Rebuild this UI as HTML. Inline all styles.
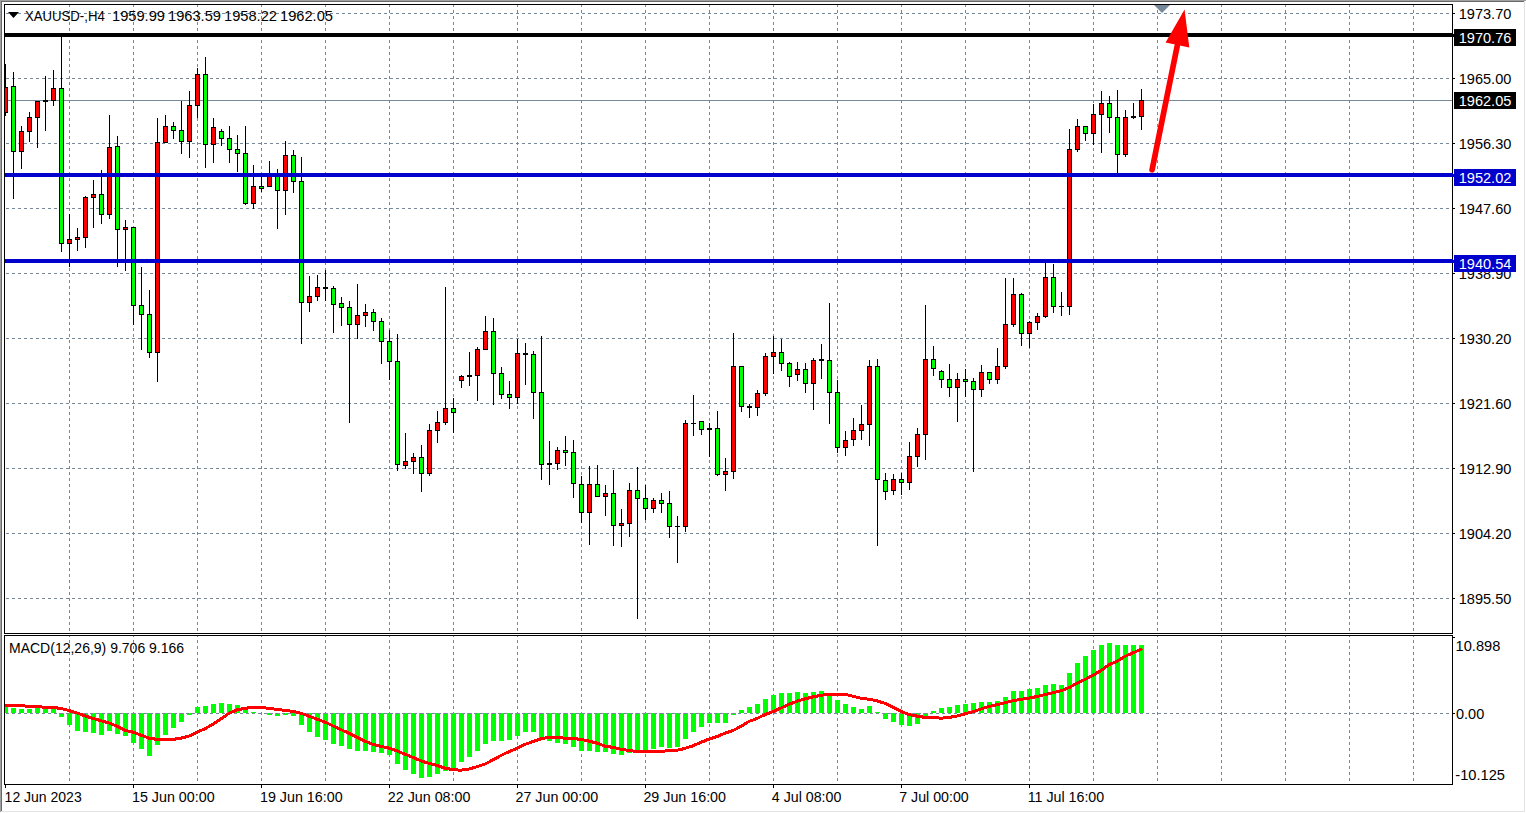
<!DOCTYPE html>
<html><head><meta charset="utf-8"><title>XAUUSD H4</title>
<style>html,body{margin:0;padding:0;background:#fff;width:1526px;height:813px;overflow:hidden}</style>
</head><body>
<svg width="1526" height="813" viewBox="0 0 1526 813" shape-rendering="crispEdges" style="display:block">
<defs><clipPath id="cm"><rect x="5" y="5" width="1447" height="628"/></clipPath><clipPath id="cs"><rect x="5" y="636" width="1447" height="148"/></clipPath></defs>
<rect width="1526" height="813" fill="#fff"/>
<rect x="0" y="0" width="1526" height="1" fill="#a0a0a0"/>
<rect x="0" y="0" width="1" height="812" fill="#a0a0a0"/>
<rect x="1" y="1" width="1523" height="1" fill="#696969"/>
<rect x="1" y="1" width="1" height="810" fill="#696969"/>
<rect x="1524" y="1" width="1" height="811" fill="#e3e3e3"/>
<rect x="1" y="811" width="1524" height="1" fill="#e3e3e3"/>
<g clip-path="url(#cm)">
<line x1="0" y1="13.5" x2="1452" y2="13.5" stroke="#778899" stroke-dasharray="3 3"/>
<line x1="0" y1="78.5" x2="1452" y2="78.5" stroke="#778899" stroke-dasharray="3 3"/>
<line x1="0" y1="143.5" x2="1452" y2="143.5" stroke="#778899" stroke-dasharray="3 3"/>
<line x1="0" y1="208.5" x2="1452" y2="208.5" stroke="#778899" stroke-dasharray="3 3"/>
<line x1="0" y1="273.5" x2="1452" y2="273.5" stroke="#778899" stroke-dasharray="3 3"/>
<line x1="0" y1="338.5" x2="1452" y2="338.5" stroke="#778899" stroke-dasharray="3 3"/>
<line x1="0" y1="403.5" x2="1452" y2="403.5" stroke="#778899" stroke-dasharray="3 3"/>
<line x1="0" y1="468.5" x2="1452" y2="468.5" stroke="#778899" stroke-dasharray="3 3"/>
<line x1="0" y1="533.5" x2="1452" y2="533.5" stroke="#778899" stroke-dasharray="3 3"/>
<line x1="0" y1="598.5" x2="1452" y2="598.5" stroke="#778899" stroke-dasharray="3 3"/>
<line x1="69.5" y1="-2" x2="69.5" y2="633" stroke="#778899" stroke-dasharray="3 3"/>
<line x1="133.5" y1="-2" x2="133.5" y2="633" stroke="#778899" stroke-dasharray="3 3"/>
<line x1="197.5" y1="-2" x2="197.5" y2="633" stroke="#778899" stroke-dasharray="3 3"/>
<line x1="261.5" y1="-2" x2="261.5" y2="633" stroke="#778899" stroke-dasharray="3 3"/>
<line x1="325.5" y1="-2" x2="325.5" y2="633" stroke="#778899" stroke-dasharray="3 3"/>
<line x1="389.5" y1="-2" x2="389.5" y2="633" stroke="#778899" stroke-dasharray="3 3"/>
<line x1="453.5" y1="-2" x2="453.5" y2="633" stroke="#778899" stroke-dasharray="3 3"/>
<line x1="517.5" y1="-2" x2="517.5" y2="633" stroke="#778899" stroke-dasharray="3 3"/>
<line x1="581.5" y1="-2" x2="581.5" y2="633" stroke="#778899" stroke-dasharray="3 3"/>
<line x1="645.5" y1="-2" x2="645.5" y2="633" stroke="#778899" stroke-dasharray="3 3"/>
<line x1="709.5" y1="-2" x2="709.5" y2="633" stroke="#778899" stroke-dasharray="3 3"/>
<line x1="773.5" y1="-2" x2="773.5" y2="633" stroke="#778899" stroke-dasharray="3 3"/>
<line x1="837.5" y1="-2" x2="837.5" y2="633" stroke="#778899" stroke-dasharray="3 3"/>
<line x1="901.5" y1="-2" x2="901.5" y2="633" stroke="#778899" stroke-dasharray="3 3"/>
<line x1="965.5" y1="-2" x2="965.5" y2="633" stroke="#778899" stroke-dasharray="3 3"/>
<line x1="1029.5" y1="-2" x2="1029.5" y2="633" stroke="#778899" stroke-dasharray="3 3"/>
<line x1="1093.5" y1="-2" x2="1093.5" y2="633" stroke="#778899" stroke-dasharray="3 3"/>
<line x1="1157.5" y1="-2" x2="1157.5" y2="633" stroke="#778899" stroke-dasharray="3 3"/>
<line x1="1221.5" y1="-2" x2="1221.5" y2="633" stroke="#778899" stroke-dasharray="3 3"/>
<line x1="1285.5" y1="-2" x2="1285.5" y2="633" stroke="#778899" stroke-dasharray="3 3"/>
<line x1="1349.5" y1="-2" x2="1349.5" y2="633" stroke="#778899" stroke-dasharray="3 3"/>
<line x1="1413.5" y1="-2" x2="1413.5" y2="633" stroke="#778899" stroke-dasharray="3 3"/>
<rect x="5" y="100" width="1447" height="1" fill="#778899"/>
<rect x="5" y="64" width="1" height="52" fill="#000"/>
<rect x="3" y="87" width="5" height="26" fill="#000"/>
<rect x="4" y="88" width="3" height="24" fill="#ff0000"/>
<rect x="13" y="72" width="1" height="127" fill="#000"/>
<rect x="11" y="86" width="5" height="66" fill="#000"/>
<rect x="12" y="87" width="3" height="64" fill="#00ff00"/>
<rect x="21" y="126" width="1" height="43" fill="#000"/>
<rect x="19" y="131" width="5" height="21" fill="#000"/>
<rect x="20" y="132" width="3" height="19" fill="#ff0000"/>
<rect x="29" y="112" width="1" height="30" fill="#000"/>
<rect x="27" y="117" width="5" height="15" fill="#000"/>
<rect x="28" y="118" width="3" height="13" fill="#ff0000"/>
<rect x="37" y="101" width="1" height="47" fill="#000"/>
<rect x="35" y="101" width="5" height="17" fill="#000"/>
<rect x="36" y="102" width="3" height="15" fill="#ff0000"/>
<rect x="45" y="76" width="1" height="55" fill="#000"/>
<rect x="43" y="100" width="5" height="2" fill="#000"/>
<rect x="53" y="70" width="1" height="36" fill="#000"/>
<rect x="51" y="88" width="5" height="13" fill="#000"/>
<rect x="52" y="89" width="3" height="11" fill="#ff0000"/>
<rect x="61" y="37" width="1" height="215" fill="#000"/>
<rect x="59" y="88" width="5" height="156" fill="#000"/>
<rect x="60" y="89" width="3" height="154" fill="#00ff00"/>
<rect x="69" y="214" width="1" height="53" fill="#000"/>
<rect x="67" y="239" width="5" height="5" fill="#000"/>
<rect x="68" y="240" width="3" height="3" fill="#ff0000"/>
<rect x="77" y="228" width="1" height="23" fill="#000"/>
<rect x="75" y="237" width="5" height="3" fill="#000"/>
<rect x="76" y="238" width="3" height="1" fill="#ff0000"/>
<rect x="85" y="196" width="1" height="52" fill="#000"/>
<rect x="83" y="197" width="5" height="41" fill="#000"/>
<rect x="84" y="198" width="3" height="39" fill="#ff0000"/>
<rect x="93" y="180" width="1" height="48" fill="#000"/>
<rect x="91" y="194" width="5" height="4" fill="#000"/>
<rect x="92" y="195" width="3" height="2" fill="#ff0000"/>
<rect x="101" y="170" width="1" height="54" fill="#000"/>
<rect x="99" y="194" width="5" height="21" fill="#000"/>
<rect x="100" y="195" width="3" height="19" fill="#00ff00"/>
<rect x="109" y="115" width="1" height="104" fill="#000"/>
<rect x="107" y="147" width="5" height="68" fill="#000"/>
<rect x="108" y="148" width="3" height="66" fill="#ff0000"/>
<rect x="117" y="136" width="1" height="131" fill="#000"/>
<rect x="115" y="146" width="5" height="84" fill="#000"/>
<rect x="116" y="147" width="3" height="82" fill="#00ff00"/>
<rect x="125" y="220" width="1" height="51" fill="#000"/>
<rect x="123" y="227" width="5" height="3" fill="#000"/>
<rect x="124" y="228" width="3" height="1" fill="#ff0000"/>
<rect x="133" y="227" width="1" height="98" fill="#000"/>
<rect x="131" y="227" width="5" height="79" fill="#000"/>
<rect x="132" y="228" width="3" height="77" fill="#00ff00"/>
<rect x="141" y="267" width="1" height="83" fill="#000"/>
<rect x="139" y="305" width="5" height="10" fill="#000"/>
<rect x="140" y="306" width="3" height="8" fill="#00ff00"/>
<rect x="149" y="290" width="1" height="68" fill="#000"/>
<rect x="147" y="314" width="5" height="39" fill="#000"/>
<rect x="148" y="315" width="3" height="37" fill="#00ff00"/>
<rect x="157" y="118" width="1" height="264" fill="#000"/>
<rect x="155" y="142" width="5" height="211" fill="#000"/>
<rect x="156" y="143" width="3" height="209" fill="#ff0000"/>
<rect x="165" y="115" width="1" height="28" fill="#000"/>
<rect x="163" y="126" width="5" height="17" fill="#000"/>
<rect x="164" y="127" width="3" height="15" fill="#ff0000"/>
<rect x="173" y="122" width="1" height="17" fill="#000"/>
<rect x="171" y="126" width="5" height="5" fill="#000"/>
<rect x="172" y="127" width="3" height="3" fill="#00ff00"/>
<rect x="181" y="101" width="1" height="53" fill="#000"/>
<rect x="179" y="130" width="5" height="12" fill="#000"/>
<rect x="180" y="131" width="3" height="10" fill="#00ff00"/>
<rect x="189" y="91" width="1" height="67" fill="#000"/>
<rect x="187" y="105" width="5" height="37" fill="#000"/>
<rect x="188" y="106" width="3" height="35" fill="#ff0000"/>
<rect x="197" y="68" width="1" height="50" fill="#000"/>
<rect x="195" y="74" width="5" height="32" fill="#000"/>
<rect x="196" y="75" width="3" height="30" fill="#ff0000"/>
<rect x="205" y="57" width="1" height="111" fill="#000"/>
<rect x="203" y="74" width="5" height="71" fill="#000"/>
<rect x="204" y="75" width="3" height="69" fill="#00ff00"/>
<rect x="213" y="118" width="1" height="45" fill="#000"/>
<rect x="211" y="127" width="5" height="18" fill="#000"/>
<rect x="212" y="128" width="3" height="16" fill="#ff0000"/>
<rect x="221" y="129" width="1" height="17" fill="#000"/>
<rect x="219" y="131" width="5" height="8" fill="#000"/>
<rect x="220" y="132" width="3" height="6" fill="#00ff00"/>
<rect x="229" y="126" width="1" height="37" fill="#000"/>
<rect x="227" y="138" width="5" height="12" fill="#000"/>
<rect x="228" y="139" width="3" height="10" fill="#00ff00"/>
<rect x="237" y="135" width="1" height="37" fill="#000"/>
<rect x="235" y="149" width="5" height="5" fill="#000"/>
<rect x="236" y="150" width="3" height="3" fill="#00ff00"/>
<rect x="245" y="126" width="1" height="79" fill="#000"/>
<rect x="243" y="153" width="5" height="51" fill="#000"/>
<rect x="244" y="154" width="3" height="49" fill="#00ff00"/>
<rect x="253" y="165" width="1" height="44" fill="#000"/>
<rect x="251" y="186" width="5" height="18" fill="#000"/>
<rect x="252" y="187" width="3" height="16" fill="#ff0000"/>
<rect x="261" y="177" width="1" height="15" fill="#000"/>
<rect x="259" y="186" width="5" height="3" fill="#000"/>
<rect x="260" y="187" width="3" height="1" fill="#00ff00"/>
<rect x="269" y="161" width="1" height="26" fill="#000"/>
<rect x="267" y="175" width="5" height="12" fill="#000"/>
<rect x="268" y="176" width="3" height="10" fill="#ff0000"/>
<rect x="277" y="169" width="1" height="60" fill="#000"/>
<rect x="275" y="175" width="5" height="16" fill="#000"/>
<rect x="276" y="176" width="3" height="14" fill="#00ff00"/>
<rect x="285" y="141" width="1" height="74" fill="#000"/>
<rect x="283" y="155" width="5" height="36" fill="#000"/>
<rect x="284" y="156" width="3" height="34" fill="#ff0000"/>
<rect x="293" y="150" width="1" height="43" fill="#000"/>
<rect x="291" y="155" width="5" height="27" fill="#000"/>
<rect x="292" y="156" width="3" height="25" fill="#00ff00"/>
<rect x="301" y="157" width="1" height="187" fill="#000"/>
<rect x="299" y="181" width="5" height="122" fill="#000"/>
<rect x="300" y="182" width="3" height="120" fill="#00ff00"/>
<rect x="309" y="276" width="1" height="36" fill="#000"/>
<rect x="307" y="296" width="5" height="7" fill="#000"/>
<rect x="308" y="297" width="3" height="5" fill="#ff0000"/>
<rect x="317" y="275" width="1" height="26" fill="#000"/>
<rect x="315" y="287" width="5" height="10" fill="#000"/>
<rect x="316" y="288" width="3" height="8" fill="#ff0000"/>
<rect x="325" y="270" width="1" height="31" fill="#000"/>
<rect x="323" y="287" width="5" height="2" fill="#000"/>
<rect x="333" y="286" width="1" height="47" fill="#000"/>
<rect x="331" y="288" width="5" height="17" fill="#000"/>
<rect x="332" y="289" width="3" height="15" fill="#00ff00"/>
<rect x="341" y="297" width="1" height="29" fill="#000"/>
<rect x="339" y="303" width="5" height="5" fill="#000"/>
<rect x="340" y="304" width="3" height="3" fill="#00ff00"/>
<rect x="349" y="301" width="1" height="122" fill="#000"/>
<rect x="347" y="307" width="5" height="18" fill="#000"/>
<rect x="348" y="308" width="3" height="16" fill="#00ff00"/>
<rect x="357" y="284" width="1" height="55" fill="#000"/>
<rect x="355" y="315" width="5" height="10" fill="#000"/>
<rect x="356" y="316" width="3" height="8" fill="#ff0000"/>
<rect x="365" y="304" width="1" height="23" fill="#000"/>
<rect x="363" y="312" width="5" height="4" fill="#000"/>
<rect x="364" y="313" width="3" height="2" fill="#ff0000"/>
<rect x="373" y="309" width="1" height="22" fill="#000"/>
<rect x="371" y="312" width="5" height="10" fill="#000"/>
<rect x="372" y="313" width="3" height="8" fill="#00ff00"/>
<rect x="381" y="318" width="1" height="46" fill="#000"/>
<rect x="379" y="321" width="5" height="21" fill="#000"/>
<rect x="380" y="322" width="3" height="19" fill="#00ff00"/>
<rect x="389" y="330" width="1" height="50" fill="#000"/>
<rect x="387" y="341" width="5" height="21" fill="#000"/>
<rect x="388" y="342" width="3" height="19" fill="#00ff00"/>
<rect x="397" y="334" width="1" height="137" fill="#000"/>
<rect x="395" y="361" width="5" height="104" fill="#000"/>
<rect x="396" y="362" width="3" height="102" fill="#00ff00"/>
<rect x="405" y="433" width="1" height="36" fill="#000"/>
<rect x="403" y="461" width="5" height="5" fill="#000"/>
<rect x="404" y="462" width="3" height="3" fill="#ff0000"/>
<rect x="413" y="453" width="1" height="21" fill="#000"/>
<rect x="411" y="457" width="5" height="5" fill="#000"/>
<rect x="412" y="458" width="3" height="3" fill="#ff0000"/>
<rect x="421" y="445" width="1" height="47" fill="#000"/>
<rect x="419" y="457" width="5" height="17" fill="#000"/>
<rect x="420" y="458" width="3" height="15" fill="#00ff00"/>
<rect x="429" y="424" width="1" height="52" fill="#000"/>
<rect x="427" y="430" width="5" height="44" fill="#000"/>
<rect x="428" y="431" width="3" height="42" fill="#ff0000"/>
<rect x="437" y="411" width="1" height="32" fill="#000"/>
<rect x="435" y="422" width="5" height="9" fill="#000"/>
<rect x="436" y="423" width="3" height="7" fill="#ff0000"/>
<rect x="445" y="287" width="1" height="138" fill="#000"/>
<rect x="443" y="408" width="5" height="15" fill="#000"/>
<rect x="444" y="409" width="3" height="13" fill="#ff0000"/>
<rect x="453" y="398" width="1" height="35" fill="#000"/>
<rect x="451" y="408" width="5" height="5" fill="#000"/>
<rect x="452" y="409" width="3" height="3" fill="#00ff00"/>
<rect x="461" y="375" width="1" height="13" fill="#000"/>
<rect x="459" y="376" width="5" height="5" fill="#000"/>
<rect x="460" y="377" width="3" height="3" fill="#ff0000"/>
<rect x="469" y="352" width="1" height="34" fill="#000"/>
<rect x="467" y="375" width="5" height="2" fill="#000"/>
<rect x="477" y="347" width="1" height="54" fill="#000"/>
<rect x="475" y="349" width="5" height="27" fill="#000"/>
<rect x="476" y="350" width="3" height="25" fill="#ff0000"/>
<rect x="485" y="316" width="1" height="34" fill="#000"/>
<rect x="483" y="331" width="5" height="19" fill="#000"/>
<rect x="484" y="332" width="3" height="17" fill="#ff0000"/>
<rect x="493" y="318" width="1" height="87" fill="#000"/>
<rect x="491" y="331" width="5" height="43" fill="#000"/>
<rect x="492" y="332" width="3" height="41" fill="#00ff00"/>
<rect x="501" y="367" width="1" height="32" fill="#000"/>
<rect x="499" y="373" width="5" height="22" fill="#000"/>
<rect x="500" y="374" width="3" height="20" fill="#00ff00"/>
<rect x="509" y="381" width="1" height="28" fill="#000"/>
<rect x="507" y="394" width="5" height="4" fill="#000"/>
<rect x="508" y="395" width="3" height="2" fill="#00ff00"/>
<rect x="517" y="339" width="1" height="65" fill="#000"/>
<rect x="515" y="353" width="5" height="45" fill="#000"/>
<rect x="516" y="354" width="3" height="43" fill="#ff0000"/>
<rect x="525" y="343" width="1" height="42" fill="#000"/>
<rect x="523" y="353" width="5" height="2" fill="#000"/>
<rect x="533" y="351" width="1" height="68" fill="#000"/>
<rect x="531" y="354" width="5" height="39" fill="#000"/>
<rect x="532" y="355" width="3" height="37" fill="#00ff00"/>
<rect x="541" y="336" width="1" height="144" fill="#000"/>
<rect x="539" y="392" width="5" height="73" fill="#000"/>
<rect x="540" y="393" width="3" height="71" fill="#00ff00"/>
<rect x="549" y="441" width="1" height="44" fill="#000"/>
<rect x="547" y="463" width="5" height="2" fill="#000"/>
<rect x="557" y="447" width="1" height="23" fill="#000"/>
<rect x="555" y="450" width="5" height="14" fill="#000"/>
<rect x="556" y="451" width="3" height="12" fill="#ff0000"/>
<rect x="565" y="436" width="1" height="30" fill="#000"/>
<rect x="563" y="450" width="5" height="3" fill="#000"/>
<rect x="564" y="451" width="3" height="1" fill="#00ff00"/>
<rect x="573" y="440" width="1" height="58" fill="#000"/>
<rect x="571" y="452" width="5" height="32" fill="#000"/>
<rect x="572" y="453" width="3" height="30" fill="#00ff00"/>
<rect x="581" y="476" width="1" height="47" fill="#000"/>
<rect x="579" y="484" width="5" height="29" fill="#000"/>
<rect x="580" y="485" width="3" height="27" fill="#00ff00"/>
<rect x="589" y="466" width="1" height="79" fill="#000"/>
<rect x="587" y="484" width="5" height="29" fill="#000"/>
<rect x="588" y="485" width="3" height="27" fill="#ff0000"/>
<rect x="597" y="465" width="1" height="32" fill="#000"/>
<rect x="595" y="484" width="5" height="13" fill="#000"/>
<rect x="596" y="485" width="3" height="11" fill="#00ff00"/>
<rect x="605" y="485" width="1" height="31" fill="#000"/>
<rect x="603" y="493" width="5" height="4" fill="#000"/>
<rect x="604" y="494" width="3" height="2" fill="#ff0000"/>
<rect x="613" y="470" width="1" height="76" fill="#000"/>
<rect x="611" y="493" width="5" height="33" fill="#000"/>
<rect x="612" y="494" width="3" height="31" fill="#00ff00"/>
<rect x="621" y="509" width="1" height="38" fill="#000"/>
<rect x="619" y="523" width="5" height="3" fill="#000"/>
<rect x="620" y="524" width="3" height="1" fill="#ff0000"/>
<rect x="629" y="483" width="1" height="54" fill="#000"/>
<rect x="627" y="490" width="5" height="34" fill="#000"/>
<rect x="628" y="491" width="3" height="32" fill="#ff0000"/>
<rect x="637" y="467" width="1" height="152" fill="#000"/>
<rect x="635" y="490" width="5" height="9" fill="#000"/>
<rect x="636" y="491" width="3" height="7" fill="#00ff00"/>
<rect x="645" y="485" width="1" height="35" fill="#000"/>
<rect x="643" y="498" width="5" height="11" fill="#000"/>
<rect x="644" y="499" width="3" height="9" fill="#00ff00"/>
<rect x="653" y="498" width="1" height="15" fill="#000"/>
<rect x="651" y="500" width="5" height="9" fill="#000"/>
<rect x="652" y="501" width="3" height="7" fill="#ff0000"/>
<rect x="661" y="493" width="1" height="20" fill="#000"/>
<rect x="659" y="500" width="5" height="4" fill="#000"/>
<rect x="660" y="501" width="3" height="2" fill="#00ff00"/>
<rect x="669" y="491" width="1" height="47" fill="#000"/>
<rect x="667" y="503" width="5" height="24" fill="#000"/>
<rect x="668" y="504" width="3" height="22" fill="#00ff00"/>
<rect x="677" y="516" width="1" height="47" fill="#000"/>
<rect x="675" y="526" width="5" height="1" fill="#000"/>
<rect x="685" y="420" width="1" height="112" fill="#000"/>
<rect x="683" y="423" width="5" height="104" fill="#000"/>
<rect x="684" y="424" width="3" height="102" fill="#ff0000"/>
<rect x="693" y="395" width="1" height="41" fill="#000"/>
<rect x="691" y="423" width="5" height="1" fill="#000"/>
<rect x="701" y="421" width="1" height="14" fill="#000"/>
<rect x="699" y="421" width="5" height="9" fill="#000"/>
<rect x="700" y="422" width="3" height="7" fill="#00ff00"/>
<rect x="709" y="423" width="1" height="34" fill="#000"/>
<rect x="707" y="428" width="5" height="2" fill="#000"/>
<rect x="717" y="411" width="1" height="65" fill="#000"/>
<rect x="715" y="428" width="5" height="47" fill="#000"/>
<rect x="716" y="429" width="3" height="45" fill="#00ff00"/>
<rect x="725" y="458" width="1" height="33" fill="#000"/>
<rect x="723" y="471" width="5" height="4" fill="#000"/>
<rect x="724" y="472" width="3" height="2" fill="#ff0000"/>
<rect x="733" y="333" width="1" height="146" fill="#000"/>
<rect x="731" y="366" width="5" height="106" fill="#000"/>
<rect x="732" y="367" width="3" height="104" fill="#ff0000"/>
<rect x="741" y="366" width="1" height="46" fill="#000"/>
<rect x="739" y="366" width="5" height="41" fill="#000"/>
<rect x="740" y="367" width="3" height="39" fill="#00ff00"/>
<rect x="749" y="404" width="1" height="14" fill="#000"/>
<rect x="747" y="406" width="5" height="2" fill="#000"/>
<rect x="757" y="390" width="1" height="26" fill="#000"/>
<rect x="755" y="393" width="5" height="15" fill="#000"/>
<rect x="756" y="394" width="3" height="13" fill="#ff0000"/>
<rect x="765" y="353" width="1" height="43" fill="#000"/>
<rect x="763" y="356" width="5" height="38" fill="#000"/>
<rect x="764" y="357" width="3" height="36" fill="#ff0000"/>
<rect x="773" y="336" width="1" height="38" fill="#000"/>
<rect x="771" y="352" width="5" height="5" fill="#000"/>
<rect x="772" y="353" width="3" height="3" fill="#ff0000"/>
<rect x="781" y="339" width="1" height="32" fill="#000"/>
<rect x="779" y="352" width="5" height="12" fill="#000"/>
<rect x="780" y="353" width="3" height="10" fill="#00ff00"/>
<rect x="789" y="362" width="1" height="25" fill="#000"/>
<rect x="787" y="363" width="5" height="14" fill="#000"/>
<rect x="788" y="364" width="3" height="12" fill="#00ff00"/>
<rect x="797" y="362" width="1" height="19" fill="#000"/>
<rect x="795" y="369" width="5" height="6" fill="#000"/>
<rect x="796" y="370" width="3" height="4" fill="#ff0000"/>
<rect x="805" y="363" width="1" height="30" fill="#000"/>
<rect x="803" y="369" width="5" height="15" fill="#000"/>
<rect x="804" y="370" width="3" height="13" fill="#00ff00"/>
<rect x="813" y="358" width="1" height="52" fill="#000"/>
<rect x="811" y="360" width="5" height="24" fill="#000"/>
<rect x="812" y="361" width="3" height="22" fill="#ff0000"/>
<rect x="821" y="344" width="1" height="35" fill="#000"/>
<rect x="819" y="359" width="5" height="2" fill="#000"/>
<rect x="829" y="303" width="1" height="121" fill="#000"/>
<rect x="827" y="360" width="5" height="33" fill="#000"/>
<rect x="828" y="361" width="3" height="31" fill="#00ff00"/>
<rect x="837" y="380" width="1" height="73" fill="#000"/>
<rect x="835" y="392" width="5" height="56" fill="#000"/>
<rect x="836" y="393" width="3" height="54" fill="#00ff00"/>
<rect x="845" y="431" width="1" height="25" fill="#000"/>
<rect x="843" y="440" width="5" height="8" fill="#000"/>
<rect x="844" y="441" width="3" height="6" fill="#ff0000"/>
<rect x="853" y="418" width="1" height="28" fill="#000"/>
<rect x="851" y="430" width="5" height="10" fill="#000"/>
<rect x="852" y="431" width="3" height="8" fill="#ff0000"/>
<rect x="861" y="405" width="1" height="35" fill="#000"/>
<rect x="859" y="424" width="5" height="7" fill="#000"/>
<rect x="860" y="425" width="3" height="5" fill="#ff0000"/>
<rect x="869" y="360" width="1" height="86" fill="#000"/>
<rect x="867" y="366" width="5" height="59" fill="#000"/>
<rect x="868" y="367" width="3" height="57" fill="#ff0000"/>
<rect x="877" y="359" width="1" height="187" fill="#000"/>
<rect x="875" y="366" width="5" height="114" fill="#000"/>
<rect x="876" y="367" width="3" height="112" fill="#00ff00"/>
<rect x="885" y="473" width="1" height="27" fill="#000"/>
<rect x="883" y="480" width="5" height="12" fill="#000"/>
<rect x="884" y="481" width="3" height="10" fill="#00ff00"/>
<rect x="893" y="474" width="1" height="21" fill="#000"/>
<rect x="891" y="479" width="5" height="12" fill="#000"/>
<rect x="892" y="480" width="3" height="10" fill="#ff0000"/>
<rect x="901" y="473" width="1" height="22" fill="#000"/>
<rect x="899" y="479" width="5" height="4" fill="#000"/>
<rect x="900" y="480" width="3" height="2" fill="#00ff00"/>
<rect x="909" y="442" width="1" height="48" fill="#000"/>
<rect x="907" y="456" width="5" height="27" fill="#000"/>
<rect x="908" y="457" width="3" height="25" fill="#ff0000"/>
<rect x="917" y="428" width="1" height="39" fill="#000"/>
<rect x="915" y="434" width="5" height="23" fill="#000"/>
<rect x="916" y="435" width="3" height="21" fill="#ff0000"/>
<rect x="925" y="305" width="1" height="155" fill="#000"/>
<rect x="923" y="359" width="5" height="76" fill="#000"/>
<rect x="924" y="360" width="3" height="74" fill="#ff0000"/>
<rect x="933" y="346" width="1" height="30" fill="#000"/>
<rect x="931" y="359" width="5" height="10" fill="#000"/>
<rect x="932" y="360" width="3" height="8" fill="#00ff00"/>
<rect x="941" y="370" width="1" height="18" fill="#000"/>
<rect x="939" y="371" width="5" height="9" fill="#000"/>
<rect x="940" y="372" width="3" height="7" fill="#00ff00"/>
<rect x="949" y="364" width="1" height="33" fill="#000"/>
<rect x="947" y="379" width="5" height="9" fill="#000"/>
<rect x="948" y="380" width="3" height="7" fill="#00ff00"/>
<rect x="957" y="373" width="1" height="49" fill="#000"/>
<rect x="955" y="379" width="5" height="9" fill="#000"/>
<rect x="956" y="380" width="3" height="7" fill="#ff0000"/>
<rect x="965" y="369" width="1" height="28" fill="#000"/>
<rect x="963" y="379" width="5" height="3" fill="#000"/>
<rect x="964" y="380" width="3" height="1" fill="#00ff00"/>
<rect x="973" y="378" width="1" height="94" fill="#000"/>
<rect x="971" y="381" width="5" height="9" fill="#000"/>
<rect x="972" y="382" width="3" height="7" fill="#00ff00"/>
<rect x="981" y="365" width="1" height="32" fill="#000"/>
<rect x="979" y="372" width="5" height="18" fill="#000"/>
<rect x="980" y="373" width="3" height="16" fill="#ff0000"/>
<rect x="989" y="372" width="1" height="12" fill="#000"/>
<rect x="987" y="372" width="5" height="8" fill="#000"/>
<rect x="988" y="373" width="3" height="6" fill="#00ff00"/>
<rect x="997" y="348" width="1" height="36" fill="#000"/>
<rect x="995" y="366" width="5" height="14" fill="#000"/>
<rect x="996" y="367" width="3" height="12" fill="#ff0000"/>
<rect x="1005" y="278" width="1" height="91" fill="#000"/>
<rect x="1003" y="324" width="5" height="43" fill="#000"/>
<rect x="1004" y="325" width="3" height="41" fill="#ff0000"/>
<rect x="1013" y="278" width="1" height="49" fill="#000"/>
<rect x="1011" y="294" width="5" height="31" fill="#000"/>
<rect x="1012" y="295" width="3" height="29" fill="#ff0000"/>
<rect x="1021" y="293" width="1" height="53" fill="#000"/>
<rect x="1019" y="294" width="5" height="40" fill="#000"/>
<rect x="1020" y="295" width="3" height="38" fill="#00ff00"/>
<rect x="1029" y="321" width="1" height="27" fill="#000"/>
<rect x="1027" y="322" width="5" height="12" fill="#000"/>
<rect x="1028" y="323" width="3" height="10" fill="#ff0000"/>
<rect x="1037" y="313" width="1" height="17" fill="#000"/>
<rect x="1035" y="316" width="5" height="7" fill="#000"/>
<rect x="1036" y="317" width="3" height="5" fill="#ff0000"/>
<rect x="1045" y="263" width="1" height="55" fill="#000"/>
<rect x="1043" y="277" width="5" height="40" fill="#000"/>
<rect x="1044" y="278" width="3" height="38" fill="#ff0000"/>
<rect x="1053" y="264" width="1" height="49" fill="#000"/>
<rect x="1051" y="277" width="5" height="30" fill="#000"/>
<rect x="1052" y="278" width="3" height="28" fill="#00ff00"/>
<rect x="1061" y="292" width="1" height="24" fill="#000"/>
<rect x="1059" y="306" width="5" height="1" fill="#000"/>
<rect x="1069" y="129" width="1" height="186" fill="#000"/>
<rect x="1067" y="149" width="5" height="158" fill="#000"/>
<rect x="1068" y="150" width="3" height="156" fill="#ff0000"/>
<rect x="1077" y="119" width="1" height="33" fill="#000"/>
<rect x="1075" y="126" width="5" height="24" fill="#000"/>
<rect x="1076" y="127" width="3" height="22" fill="#ff0000"/>
<rect x="1085" y="126" width="1" height="15" fill="#000"/>
<rect x="1083" y="126" width="5" height="8" fill="#000"/>
<rect x="1084" y="127" width="3" height="6" fill="#00ff00"/>
<rect x="1093" y="104" width="1" height="41" fill="#000"/>
<rect x="1091" y="114" width="5" height="20" fill="#000"/>
<rect x="1092" y="115" width="3" height="18" fill="#ff0000"/>
<rect x="1101" y="91" width="1" height="62" fill="#000"/>
<rect x="1099" y="103" width="5" height="12" fill="#000"/>
<rect x="1100" y="104" width="3" height="10" fill="#ff0000"/>
<rect x="1109" y="96" width="1" height="37" fill="#000"/>
<rect x="1107" y="103" width="5" height="15" fill="#000"/>
<rect x="1108" y="104" width="3" height="13" fill="#00ff00"/>
<rect x="1117" y="90" width="1" height="83" fill="#000"/>
<rect x="1115" y="117" width="5" height="38" fill="#000"/>
<rect x="1116" y="118" width="3" height="36" fill="#00ff00"/>
<rect x="1125" y="110" width="1" height="47" fill="#000"/>
<rect x="1123" y="117" width="5" height="38" fill="#000"/>
<rect x="1124" y="118" width="3" height="36" fill="#ff0000"/>
<rect x="1133" y="103" width="1" height="16" fill="#000"/>
<rect x="1131" y="116" width="5" height="2" fill="#000"/>
<rect x="1141" y="89" width="1" height="41" fill="#000"/>
<rect x="1139" y="100" width="5" height="17" fill="#000"/>
<rect x="1140" y="101" width="3" height="15" fill="#ff0000"/>
</g>
<polygon points="1154,5 1170,5 1162,13" fill="#778899" shape-rendering="auto"/>
<rect x="4.5" y="4.5" width="1448" height="629" fill="none" stroke="#000"/>
<rect x="4.5" y="635.5" width="1448" height="149" fill="none" stroke="#000"/>
<rect x="5" y="33" width="1449" height="4" fill="#000"/>
<rect x="1453" y="33" width="1" height="1" fill="#fff"/>
<rect x="5" y="173" width="1449" height="4" fill="#0000cd"/>
<rect x="1453" y="173" width="1" height="1" fill="#fff"/>
<rect x="5" y="259" width="1449" height="4" fill="#0000cd"/>
<rect x="1453" y="259" width="1" height="1" fill="#fff"/>
<g shape-rendering="auto" fill="#ff0000"><line x1="1152.1" y1="169.8" x2="1177.2" y2="46" stroke="#ff0000" stroke-width="5.7" stroke-linecap="round"/><polygon points="1184.6,9.5 1165.6,42.6 1189.3,47.6"/></g>
<g clip-path="url(#cs)">
<line x1="69.5" y1="634" x2="69.5" y2="784" stroke="#778899" stroke-dasharray="3 3"/>
<line x1="133.5" y1="634" x2="133.5" y2="784" stroke="#778899" stroke-dasharray="3 3"/>
<line x1="197.5" y1="634" x2="197.5" y2="784" stroke="#778899" stroke-dasharray="3 3"/>
<line x1="261.5" y1="634" x2="261.5" y2="784" stroke="#778899" stroke-dasharray="3 3"/>
<line x1="325.5" y1="634" x2="325.5" y2="784" stroke="#778899" stroke-dasharray="3 3"/>
<line x1="389.5" y1="634" x2="389.5" y2="784" stroke="#778899" stroke-dasharray="3 3"/>
<line x1="453.5" y1="634" x2="453.5" y2="784" stroke="#778899" stroke-dasharray="3 3"/>
<line x1="517.5" y1="634" x2="517.5" y2="784" stroke="#778899" stroke-dasharray="3 3"/>
<line x1="581.5" y1="634" x2="581.5" y2="784" stroke="#778899" stroke-dasharray="3 3"/>
<line x1="645.5" y1="634" x2="645.5" y2="784" stroke="#778899" stroke-dasharray="3 3"/>
<line x1="709.5" y1="634" x2="709.5" y2="784" stroke="#778899" stroke-dasharray="3 3"/>
<line x1="773.5" y1="634" x2="773.5" y2="784" stroke="#778899" stroke-dasharray="3 3"/>
<line x1="837.5" y1="634" x2="837.5" y2="784" stroke="#778899" stroke-dasharray="3 3"/>
<line x1="901.5" y1="634" x2="901.5" y2="784" stroke="#778899" stroke-dasharray="3 3"/>
<line x1="965.5" y1="634" x2="965.5" y2="784" stroke="#778899" stroke-dasharray="3 3"/>
<line x1="1029.5" y1="634" x2="1029.5" y2="784" stroke="#778899" stroke-dasharray="3 3"/>
<line x1="1093.5" y1="634" x2="1093.5" y2="784" stroke="#778899" stroke-dasharray="3 3"/>
<line x1="1157.5" y1="634" x2="1157.5" y2="784" stroke="#778899" stroke-dasharray="3 3"/>
<line x1="1221.5" y1="634" x2="1221.5" y2="784" stroke="#778899" stroke-dasharray="3 3"/>
<line x1="1285.5" y1="634" x2="1285.5" y2="784" stroke="#778899" stroke-dasharray="3 3"/>
<line x1="1349.5" y1="634" x2="1349.5" y2="784" stroke="#778899" stroke-dasharray="3 3"/>
<line x1="1413.5" y1="634" x2="1413.5" y2="784" stroke="#778899" stroke-dasharray="3 3"/>
<rect x="3" y="707" width="5" height="6" fill="#00ff00"/>
<rect x="11" y="708" width="5" height="5" fill="#00ff00"/>
<rect x="19" y="709" width="5" height="4" fill="#00ff00"/>
<rect x="27" y="709" width="5" height="4" fill="#00ff00"/>
<rect x="35" y="708" width="5" height="5" fill="#00ff00"/>
<rect x="43" y="709" width="5" height="4" fill="#00ff00"/>
<rect x="51" y="709" width="5" height="4" fill="#00ff00"/>
<rect x="59" y="713" width="5" height="4" fill="#00ff00"/>
<rect x="67" y="713" width="5" height="12" fill="#00ff00"/>
<rect x="75" y="713" width="5" height="18" fill="#00ff00"/>
<rect x="83" y="713" width="5" height="19" fill="#00ff00"/>
<rect x="91" y="713" width="5" height="20" fill="#00ff00"/>
<rect x="99" y="713" width="5" height="22" fill="#00ff00"/>
<rect x="107" y="713" width="5" height="18" fill="#00ff00"/>
<rect x="115" y="713" width="5" height="21" fill="#00ff00"/>
<rect x="123" y="713" width="5" height="23" fill="#00ff00"/>
<rect x="131" y="713" width="5" height="30" fill="#00ff00"/>
<rect x="139" y="713" width="5" height="36" fill="#00ff00"/>
<rect x="147" y="713" width="5" height="43" fill="#00ff00"/>
<rect x="155" y="713" width="5" height="32" fill="#00ff00"/>
<rect x="163" y="713" width="5" height="22" fill="#00ff00"/>
<rect x="171" y="713" width="5" height="15" fill="#00ff00"/>
<rect x="179" y="713" width="5" height="9" fill="#00ff00"/>
<rect x="187" y="713" width="5" height="2" fill="#00ff00"/>
<rect x="195" y="707" width="5" height="6" fill="#00ff00"/>
<rect x="203" y="706" width="5" height="7" fill="#00ff00"/>
<rect x="211" y="704" width="5" height="9" fill="#00ff00"/>
<rect x="219" y="703" width="5" height="10" fill="#00ff00"/>
<rect x="227" y="704" width="5" height="9" fill="#00ff00"/>
<rect x="235" y="705" width="5" height="8" fill="#00ff00"/>
<rect x="243" y="710" width="5" height="3" fill="#00ff00"/>
<rect x="251" y="712" width="5" height="1" fill="#00ff00"/>
<rect x="267" y="713" width="5" height="2" fill="#00ff00"/>
<rect x="275" y="713" width="5" height="3" fill="#00ff00"/>
<rect x="283" y="713" width="5" height="2" fill="#00ff00"/>
<rect x="291" y="713" width="5" height="3" fill="#00ff00"/>
<rect x="299" y="713" width="5" height="12" fill="#00ff00"/>
<rect x="307" y="713" width="5" height="19" fill="#00ff00"/>
<rect x="315" y="713" width="5" height="24" fill="#00ff00"/>
<rect x="323" y="713" width="5" height="27" fill="#00ff00"/>
<rect x="331" y="713" width="5" height="31" fill="#00ff00"/>
<rect x="339" y="713" width="5" height="33" fill="#00ff00"/>
<rect x="347" y="713" width="5" height="36" fill="#00ff00"/>
<rect x="355" y="713" width="5" height="38" fill="#00ff00"/>
<rect x="363" y="713" width="5" height="38" fill="#00ff00"/>
<rect x="371" y="713" width="5" height="39" fill="#00ff00"/>
<rect x="379" y="713" width="5" height="40" fill="#00ff00"/>
<rect x="387" y="713" width="5" height="42" fill="#00ff00"/>
<rect x="395" y="713" width="5" height="51" fill="#00ff00"/>
<rect x="403" y="713" width="5" height="57" fill="#00ff00"/>
<rect x="411" y="713" width="5" height="61" fill="#00ff00"/>
<rect x="419" y="713" width="5" height="65" fill="#00ff00"/>
<rect x="427" y="713" width="5" height="64" fill="#00ff00"/>
<rect x="435" y="713" width="5" height="61" fill="#00ff00"/>
<rect x="443" y="713" width="5" height="58" fill="#00ff00"/>
<rect x="451" y="713" width="5" height="56" fill="#00ff00"/>
<rect x="459" y="713" width="5" height="49" fill="#00ff00"/>
<rect x="467" y="713" width="5" height="44" fill="#00ff00"/>
<rect x="475" y="713" width="5" height="38" fill="#00ff00"/>
<rect x="483" y="713" width="5" height="31" fill="#00ff00"/>
<rect x="491" y="713" width="5" height="28" fill="#00ff00"/>
<rect x="499" y="713" width="5" height="28" fill="#00ff00"/>
<rect x="507" y="713" width="5" height="27" fill="#00ff00"/>
<rect x="515" y="713" width="5" height="23" fill="#00ff00"/>
<rect x="523" y="713" width="5" height="19" fill="#00ff00"/>
<rect x="531" y="713" width="5" height="19" fill="#00ff00"/>
<rect x="539" y="713" width="5" height="25" fill="#00ff00"/>
<rect x="547" y="713" width="5" height="28" fill="#00ff00"/>
<rect x="555" y="713" width="5" height="30" fill="#00ff00"/>
<rect x="563" y="713" width="5" height="31" fill="#00ff00"/>
<rect x="571" y="713" width="5" height="34" fill="#00ff00"/>
<rect x="579" y="713" width="5" height="38" fill="#00ff00"/>
<rect x="587" y="713" width="5" height="38" fill="#00ff00"/>
<rect x="595" y="713" width="5" height="39" fill="#00ff00"/>
<rect x="603" y="713" width="5" height="39" fill="#00ff00"/>
<rect x="611" y="713" width="5" height="41" fill="#00ff00"/>
<rect x="619" y="713" width="5" height="42" fill="#00ff00"/>
<rect x="627" y="713" width="5" height="40" fill="#00ff00"/>
<rect x="635" y="713" width="5" height="39" fill="#00ff00"/>
<rect x="643" y="713" width="5" height="38" fill="#00ff00"/>
<rect x="651" y="713" width="5" height="36" fill="#00ff00"/>
<rect x="659" y="713" width="5" height="34" fill="#00ff00"/>
<rect x="667" y="713" width="5" height="35" fill="#00ff00"/>
<rect x="675" y="713" width="5" height="34" fill="#00ff00"/>
<rect x="683" y="713" width="5" height="26" fill="#00ff00"/>
<rect x="691" y="713" width="5" height="19" fill="#00ff00"/>
<rect x="699" y="713" width="5" height="14" fill="#00ff00"/>
<rect x="707" y="713" width="5" height="10" fill="#00ff00"/>
<rect x="715" y="713" width="5" height="10" fill="#00ff00"/>
<rect x="723" y="713" width="5" height="10" fill="#00ff00"/>
<rect x="731" y="713" width="5" height="2" fill="#00ff00"/>
<rect x="739" y="710" width="5" height="3" fill="#00ff00"/>
<rect x="747" y="707" width="5" height="6" fill="#00ff00"/>
<rect x="755" y="704" width="5" height="9" fill="#00ff00"/>
<rect x="763" y="699" width="5" height="14" fill="#00ff00"/>
<rect x="771" y="695" width="5" height="18" fill="#00ff00"/>
<rect x="779" y="693" width="5" height="20" fill="#00ff00"/>
<rect x="787" y="693" width="5" height="20" fill="#00ff00"/>
<rect x="795" y="692" width="5" height="21" fill="#00ff00"/>
<rect x="803" y="693" width="5" height="20" fill="#00ff00"/>
<rect x="811" y="692" width="5" height="21" fill="#00ff00"/>
<rect x="819" y="691" width="5" height="22" fill="#00ff00"/>
<rect x="827" y="695" width="5" height="18" fill="#00ff00"/>
<rect x="835" y="700" width="5" height="13" fill="#00ff00"/>
<rect x="843" y="704" width="5" height="9" fill="#00ff00"/>
<rect x="851" y="707" width="5" height="6" fill="#00ff00"/>
<rect x="859" y="709" width="5" height="4" fill="#00ff00"/>
<rect x="867" y="706" width="5" height="7" fill="#00ff00"/>
<rect x="875" y="712" width="5" height="1" fill="#00ff00"/>
<rect x="883" y="713" width="5" height="6" fill="#00ff00"/>
<rect x="891" y="713" width="5" height="9" fill="#00ff00"/>
<rect x="899" y="713" width="5" height="12" fill="#00ff00"/>
<rect x="907" y="713" width="5" height="13" fill="#00ff00"/>
<rect x="915" y="713" width="5" height="11" fill="#00ff00"/>
<rect x="923" y="713" width="5" height="3" fill="#00ff00"/>
<rect x="931" y="711" width="5" height="2" fill="#00ff00"/>
<rect x="939" y="708" width="5" height="5" fill="#00ff00"/>
<rect x="947" y="707" width="5" height="6" fill="#00ff00"/>
<rect x="955" y="705" width="5" height="8" fill="#00ff00"/>
<rect x="963" y="704" width="5" height="9" fill="#00ff00"/>
<rect x="971" y="703" width="5" height="10" fill="#00ff00"/>
<rect x="979" y="702" width="5" height="11" fill="#00ff00"/>
<rect x="987" y="702" width="5" height="11" fill="#00ff00"/>
<rect x="995" y="701" width="5" height="12" fill="#00ff00"/>
<rect x="1003" y="697" width="5" height="16" fill="#00ff00"/>
<rect x="1011" y="691" width="5" height="22" fill="#00ff00"/>
<rect x="1019" y="691" width="5" height="22" fill="#00ff00"/>
<rect x="1027" y="689" width="5" height="24" fill="#00ff00"/>
<rect x="1035" y="688" width="5" height="25" fill="#00ff00"/>
<rect x="1043" y="685" width="5" height="28" fill="#00ff00"/>
<rect x="1051" y="684" width="5" height="29" fill="#00ff00"/>
<rect x="1059" y="685" width="5" height="28" fill="#00ff00"/>
<rect x="1067" y="673" width="5" height="40" fill="#00ff00"/>
<rect x="1075" y="663" width="5" height="50" fill="#00ff00"/>
<rect x="1083" y="656" width="5" height="57" fill="#00ff00"/>
<rect x="1091" y="650" width="5" height="63" fill="#00ff00"/>
<rect x="1099" y="645" width="5" height="68" fill="#00ff00"/>
<rect x="1107" y="643" width="5" height="70" fill="#00ff00"/>
<rect x="1115" y="645" width="5" height="68" fill="#00ff00"/>
<rect x="1123" y="645" width="5" height="68" fill="#00ff00"/>
<rect x="1131" y="645" width="5" height="68" fill="#00ff00"/>
<rect x="1139" y="645" width="5" height="68" fill="#00ff00"/>
<line x1="0" y1="713.5" x2="1452" y2="713.5" stroke="#778899" stroke-dasharray="3 3"/>
<polyline points="5,705.6 13,705.6 21,705.6 29,706.4 37,706.4 45,707.4 53,707.4 61,708.5 69,710.5 77,713.0 85,715.9 93,718.4 101,720.8 109,723.0 117,726.2 125,730.3 133,732.1 141,735.1 149,738.1 157,739.4 165,739.4 173,739.4 181,738.2 189,736.1 197,732.2 205,728.7 213,724.3 221,718.8 229,713.3 237,709.9 245,708.3 253,707.4 261,707.4 269,708.3 277,709.4 285,710.3 293,711.4 301,713.2 309,716.2 317,719.1 325,722.1 333,726.0 341,729.6 349,733.2 357,737.2 365,741.1 373,744.4 381,746.4 389,748.1 397,750.9 405,754.2 413,757.5 421,760.8 429,763.4 437,765.4 445,768.2 453,769.6 461,770.2 469,769.0 477,766.7 485,764.0 493,759.9 501,755.5 509,751.6 517,748.3 525,744.4 533,741.5 541,738.8 549,737.2 557,737.4 565,738.2 573,738.5 581,739.4 589,741.1 597,743.1 605,746.1 613,747.4 621,749.2 629,750.5 637,751.6 645,751.6 653,751.6 661,751.6 669,750.5 677,750.3 685,748.4 693,745.8 701,742.3 709,739.1 717,736.6 725,733.2 733,730.5 741,726.4 749,721.4 757,718.5 765,714.6 773,711.7 781,708.0 789,704.3 797,701.2 805,698.8 813,696.9 821,695.3 829,694.2 837,694.2 845,694.2 853,696.2 861,698.2 869,699.3 877,700.8 885,703.4 893,707.4 901,711.3 909,714.6 917,716.1 925,717.4 933,717.4 941,718.2 949,717.4 957,716.1 965,713.9 973,711.7 981,709.1 989,706.4 997,704.7 1005,702.8 1013,700.8 1021,699.3 1029,698.1 1037,696.5 1045,694.6 1053,692.7 1061,690.8 1069,687.7 1077,683.2 1085,679.5 1093,675.3 1101,670.6 1109,664.8 1117,661.2 1125,656.4 1133,652.8 1141,649.4" fill="none" stroke="#ff0000" stroke-width="3" stroke-linejoin="round" stroke-linecap="round"/>
</g>
<rect x="1453" y="13" width="2" height="1" fill="#000"/>
<rect x="1453" y="78" width="2" height="1" fill="#000"/>
<rect x="1453" y="143" width="2" height="1" fill="#000"/>
<rect x="1453" y="208" width="2" height="1" fill="#000"/>
<rect x="1453" y="273" width="2" height="1" fill="#000"/>
<rect x="1453" y="338" width="2" height="1" fill="#000"/>
<rect x="1453" y="403" width="2" height="1" fill="#000"/>
<rect x="1453" y="468" width="2" height="1" fill="#000"/>
<rect x="1453" y="533" width="2" height="1" fill="#000"/>
<rect x="1453" y="598" width="2" height="1" fill="#000"/>
<rect x="1453" y="637" width="2" height="1" fill="#000"/>
<rect x="1453" y="713" width="2" height="1" fill="#000"/>
<rect x="5" y="785" width="1" height="3" fill="#000"/>
<rect x="133" y="785" width="1" height="3" fill="#000"/>
<rect x="261" y="785" width="1" height="3" fill="#000"/>
<rect x="389" y="785" width="1" height="3" fill="#000"/>
<rect x="517" y="785" width="1" height="3" fill="#000"/>
<rect x="645" y="785" width="1" height="3" fill="#000"/>
<rect x="773" y="785" width="1" height="3" fill="#000"/>
<rect x="901" y="785" width="1" height="3" fill="#000"/>
<rect x="1029" y="785" width="1" height="3" fill="#000"/>
<g font-family="Liberation Sans, sans-serif" font-size="14px" fill="#000" shape-rendering="auto">
<text x="1458.7" y="19" textLength="52.7" lengthAdjust="spacingAndGlyphs">1973.70</text>
<text x="1458.7" y="84" textLength="52.7" lengthAdjust="spacingAndGlyphs">1965.00</text>
<text x="1458.7" y="149" textLength="52.7" lengthAdjust="spacingAndGlyphs">1956.30</text>
<text x="1458.7" y="214" textLength="52.7" lengthAdjust="spacingAndGlyphs">1947.60</text>
<text x="1458.7" y="279" textLength="52.7" lengthAdjust="spacingAndGlyphs">1938.90</text>
<text x="1458.7" y="344" textLength="52.7" lengthAdjust="spacingAndGlyphs">1930.20</text>
<text x="1458.7" y="409" textLength="52.7" lengthAdjust="spacingAndGlyphs">1921.60</text>
<text x="1458.7" y="474" textLength="52.7" lengthAdjust="spacingAndGlyphs">1912.90</text>
<text x="1458.7" y="539" textLength="52.7" lengthAdjust="spacingAndGlyphs">1904.20</text>
<text x="1458.7" y="604" textLength="52.7" lengthAdjust="spacingAndGlyphs">1895.50</text>
<rect x="1454" y="29" width="62" height="17" fill="#000" shape-rendering="crispEdges"/>
<text x="1458.7" y="43" fill="#fff" textLength="52.7" lengthAdjust="spacingAndGlyphs">1970.76</text>
<rect x="1454" y="92" width="62" height="17" fill="#000" shape-rendering="crispEdges"/>
<text x="1458.7" y="106" fill="#fff" textLength="52.7" lengthAdjust="spacingAndGlyphs">1962.05</text>
<rect x="1454" y="169" width="62" height="17" fill="#0000cd" shape-rendering="crispEdges"/>
<text x="1458.7" y="183" fill="#fff" textLength="52.7" lengthAdjust="spacingAndGlyphs">1952.02</text>
<rect x="1454" y="255" width="62" height="17" fill="#0000cd" shape-rendering="crispEdges"/>
<text x="1458.7" y="269" fill="#fff" textLength="52.7" lengthAdjust="spacingAndGlyphs">1940.54</text>
<text x="1455.6" y="651" textLength="44.7" lengthAdjust="spacingAndGlyphs">10.898</text>
<text x="1456" y="719" textLength="28.2" lengthAdjust="spacingAndGlyphs">0.00</text>
<text x="1455.3" y="780" textLength="49.7" lengthAdjust="spacingAndGlyphs">-10.125</text>
<polygon points="8,12 19,12 13.5,18" fill="#000"/>
<text x="25" y="21" textLength="79.7" lengthAdjust="spacingAndGlyphs">XAUUSD-,H4</text>
<text x="112" y="21" textLength="53" lengthAdjust="spacingAndGlyphs">1959.99</text>
<text x="168" y="21" textLength="53" lengthAdjust="spacingAndGlyphs">1963.59</text>
<text x="224" y="21" textLength="53" lengthAdjust="spacingAndGlyphs">1958.22</text>
<text x="280" y="21" textLength="53" lengthAdjust="spacingAndGlyphs">1962.05</text>
<text x="9" y="653">MACD(12,26,9) 9.706 9.166</text>
<text x="4.6" y="802">12 Jun 2023</text>
<text x="132" y="802" textLength="82.6" lengthAdjust="spacingAndGlyphs">15 Jun 00:00</text>
<text x="260" y="802" textLength="82.6" lengthAdjust="spacingAndGlyphs">19 Jun 16:00</text>
<text x="387.8" y="802" textLength="82.6" lengthAdjust="spacingAndGlyphs">22 Jun 08:00</text>
<text x="515.5" y="802" textLength="82.6" lengthAdjust="spacingAndGlyphs">27 Jun 00:00</text>
<text x="643.4" y="802" textLength="82.6" lengthAdjust="spacingAndGlyphs">29 Jun 16:00</text>
<text x="771.8" y="802" textLength="69.5" lengthAdjust="spacingAndGlyphs">4 Jul 08:00</text>
<text x="899.2" y="802" textLength="69.5" lengthAdjust="spacingAndGlyphs">7 Jul 00:00</text>
<text x="1027.7" y="802" textLength="76.5" lengthAdjust="spacingAndGlyphs">11 Jul 16:00</text>
</g>
</svg>
</body></html>
